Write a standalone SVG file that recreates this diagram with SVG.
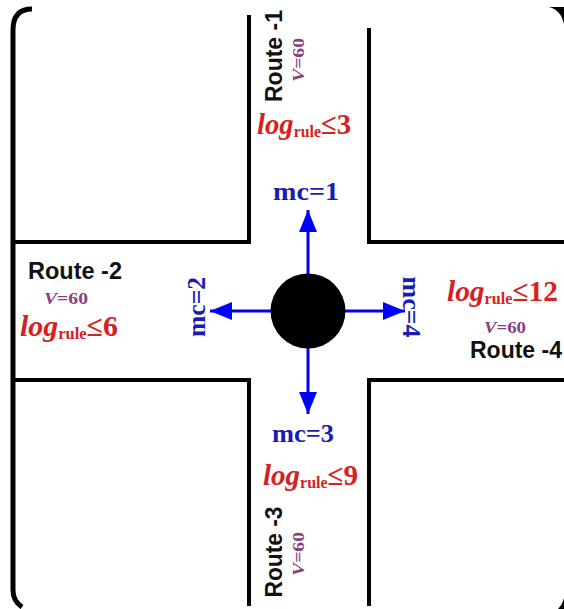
<svg xmlns="http://www.w3.org/2000/svg" width="564" height="609" viewBox="0 0 564 609">
<style>
.road{fill:none;stroke:#000;stroke-width:4}
.frame{fill:none;stroke:#000;stroke-width:5}
.route{font-family:"Liberation Sans",Arial,sans-serif;font-weight:bold;font-size:23px;fill:#111}
.v{font-family:"Liberation Serif","Times New Roman",serif;font-weight:bold;font-size:17px;fill:#8a3f7e}
.log{font-family:"Liberation Serif","Times New Roman",serif;font-weight:bold;font-size:29px;fill:#d42222}
.sub{font-size:16px;font-style:normal}
.mc{font-family:"Liberation Serif","Times New Roman",serif;font-weight:bold;font-size:25px;fill:#1a1ab4}
.arrow{stroke:#0000ff;stroke-width:3;fill:none}
</style>
<defs>
<marker id="ah" markerUnits="userSpaceOnUse" markerWidth="24" markerHeight="20" refX="22" refY="9" orient="auto">
<path d="M0,0 L22,9 L0,18 Z" fill="#0000ff"/>
</marker>
</defs>
<rect width="564" height="609" fill="#fff"/>
<g id="frame">
<path class="frame" d="M32,9 C20,9 13,15 13,30 L13,590 C13,598 16,603 22,607"/>
<path d="M548,7 L564,7 L564,24 C562,14 556,8 548,7 Z" fill="#000"/>
<path d="M564,598 L564,609 L558,609 C561,606 563,602 564,598 Z" fill="#000"/>
</g>
<g id="roads">
<path class="road" d="M14,242 L249,242 L249,15"/>
<path class="road" d="M564,242 L369,242 L369,28"/>
<path class="road" d="M14,380 L249,380 L249,606"/>
<path class="road" d="M564,380 L369,380 L369,606"/>
</g>
<g id="connectors">
<line class="arrow" x1="308" y1="280" x2="308" y2="210" marker-end="url(#ah)"/>
<line class="arrow" x1="277" y1="311" x2="210" y2="311" marker-end="url(#ah)"/>
<line class="arrow" x1="339" y1="311" x2="405" y2="311" marker-end="url(#ah)"/>
<line class="arrow" x1="308" y1="342" x2="308" y2="414" marker-end="url(#ah)"/>
</g>
<g id="hub">
<circle cx="308" cy="311" r="37.5" fill="#000"/>
</g>
<g id="route1">
<text class="route" transform="translate(282,56) rotate(-90)" text-anchor="middle" textLength="92" lengthAdjust="spacingAndGlyphs">Route -1</text>
<text class="v" transform="translate(304,60) rotate(-90)" text-anchor="middle" textLength="44" lengthAdjust="spacingAndGlyphs"><tspan font-style="italic">V</tspan>=60</text>
<text class="log" x="257" y="134" textLength="94" lengthAdjust="spacingAndGlyphs"><tspan font-style="italic">log</tspan><tspan class="sub" dy="3">rule</tspan><tspan dy="-3">≤3</tspan></text>
<text class="mc" x="306" y="200" text-anchor="middle" textLength="66" lengthAdjust="spacingAndGlyphs">mc=1</text>
</g>
<g id="route2">
<text class="route" x="28" y="279" textLength="94" lengthAdjust="spacingAndGlyphs">Route -2</text>
<text class="v" x="44" y="304" textLength="44" lengthAdjust="spacingAndGlyphs"><tspan font-style="italic">V</tspan>=60</text>
<text class="log" x="20" y="336" textLength="98" lengthAdjust="spacingAndGlyphs"><tspan font-style="italic">log</tspan><tspan class="sub" dy="3">rule</tspan><tspan dy="-3">≤6</tspan></text>
<text class="mc" transform="translate(205,307) rotate(-90)" text-anchor="middle" textLength="60" lengthAdjust="spacingAndGlyphs">mc=2</text>
</g>
<g id="route3">
<text class="mc" x="303" y="442" text-anchor="middle" textLength="62" lengthAdjust="spacingAndGlyphs">mc=3</text>
<text class="log" x="263" y="485" textLength="95" lengthAdjust="spacingAndGlyphs"><tspan font-style="italic">log</tspan><tspan class="sub" dy="3">rule</tspan><tspan dy="-3">≤9</tspan></text>
<text class="route" transform="translate(282,552) rotate(-90)" text-anchor="middle" textLength="91" lengthAdjust="spacingAndGlyphs">Route -3</text>
<text class="v" transform="translate(304,554) rotate(-90)" text-anchor="middle" textLength="44" lengthAdjust="spacingAndGlyphs"><tspan font-style="italic">V</tspan>=60</text>
</g>
<g id="route4">
<text class="mc" transform="translate(403,307) rotate(90)" text-anchor="middle" textLength="61" lengthAdjust="spacingAndGlyphs">mc=4</text>
<text class="log" x="447" y="301" textLength="111" lengthAdjust="spacingAndGlyphs"><tspan font-style="italic">log</tspan><tspan class="sub" dy="3">rule</tspan><tspan dy="-3">≤12</tspan></text>
<text class="v" x="484" y="333" textLength="42" lengthAdjust="spacingAndGlyphs"><tspan font-style="italic">V</tspan>=60</text>
<text class="route" x="470" y="358" textLength="92" lengthAdjust="spacingAndGlyphs">Route -4</text>
</g>
</svg>
